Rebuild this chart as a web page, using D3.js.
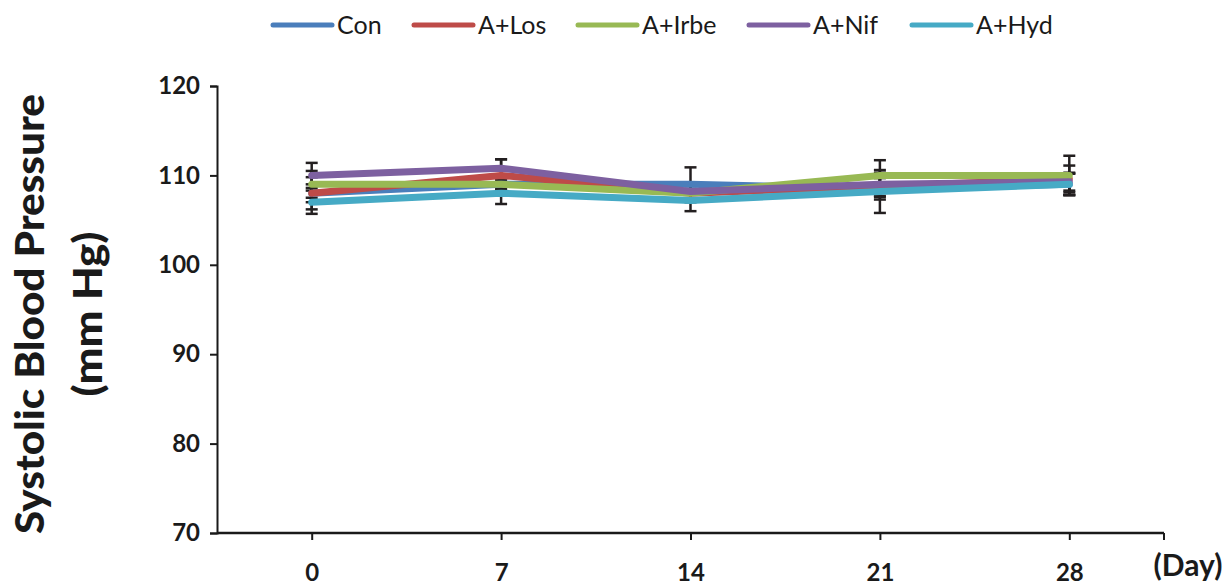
<!DOCTYPE html>
<html>
<head>
<meta charset="utf-8">
<script src="https://cdn.jsdelivr.net/npm/d3@7"></script>
<style>
  html, body { margin: 0; padding: 0; background: #fff; }
  svg { display: block; }
  text { font-family: Lato, "Open Sans", sans-serif; fill: #1a1a1a; }
</style>
</head>
<body>
<svg id="chart" width="1231" height="585"></svg>
<script>
// Days of measurement
const days = ["0", "7", "14", "21", "28"];
const yTicks = [70, 80, 90, 100, 110, 120];

// Group names and colours
const groups = ["Con", "A+Los", "A+Irbe", "A+Nif", "A+Hyd"];
const colors = ["#4A7EBB", "#BE4B48", "#98B954", "#7D60A0", "#46AAC5"];

// Mean systolic pressure (mm Hg) per group, per day
const con   = [108, 109, 109, 108.5, 109];
const aLos  = [108, 110, 108, 108.8, 109.6];
const aIrbe = [109, 109, 108, 110, 110];
const aNif  = [110, 110.8, 108.2, 109, 109.3];
const aHyd  = [107, 108, 107.2, 108.2, 109];

// Error (SD) per group, per day
const conErr  = [1.0, 0.6, 1.9, 1.2, 1.2];
const losErr  = [1.8, 1.8, 1.0, 1.2, 1.5];
const irbeErr = [1.5, 0.5, 0.8, 1.7, 2.2];
const nifErr  = [1.4, 1.0, 0.8, 1.3, 1.0];
const hydErr  = [1.3, 1.2, 1.2, 2.4, 1.2];

const series = [
  { name: groups[0], color: colors[0], values: con,   err: conErr },
  { name: groups[1], color: colors[1], values: aLos,  err: losErr },
  { name: groups[2], color: colors[2], values: aIrbe, err: irbeErr },
  { name: groups[3], color: colors[3], values: aNif,  err: nifErr },
  { name: groups[4], color: colors[4], values: aHyd,  err: hydErr }
];

const svg = d3.select("#chart");
const plotLeft = 217, plotRight = 1164, plotTop = 86, plotBottom = 533;

const x = d3.scalePoint().domain(days).range([plotLeft, plotRight]).padding(0.5);
const y = d3.scaleLinear().domain([70, 120]).range([plotBottom, plotTop]);

// Y axis
const yAxis = svg.append("g")
  .attr("transform", `translate(${plotLeft},0)`)
  .call(d3.axisLeft(y).tickValues(yTicks).tickSize(7).tickPadding(10));
yAxis.select(".domain").attr("stroke", "#1a1a1a").attr("stroke-width", 2);
yAxis.selectAll(".tick line").attr("stroke", "#1a1a1a").attr("stroke-width", 2);
yAxis.selectAll(".tick text")
  .style("font-family", "Lato, sans-serif")
  .style("font-size", "24px").style("font-weight", "bold").attr("fill", "#1a1a1a");

// X axis
const xAxis = svg.append("g")
  .attr("transform", `translate(0,${plotBottom})`)
  .call(d3.axisBottom(x).tickSizeInner(7).tickSizeOuter(0).tickPadding(24));
xAxis.select(".domain").attr("stroke", "#1a1a1a").attr("stroke-width", 2.5)
  .attr("d", `M${plotLeft},0H${plotRight}`);
xAxis.selectAll(".tick line").attr("stroke", "#1a1a1a").attr("stroke-width", 2);
xAxis.selectAll(".tick text")
  .style("font-family", "Lato, sans-serif")
  .style("font-size", "24px").style("font-weight", "bold").attr("fill", "#1a1a1a");
// end tick at the right of the x axis
xAxis.append("line").attr("x1", plotRight).attr("x2", plotRight).attr("y1", 0).attr("y2", 7)
  .attr("stroke", "#1a1a1a").attr("stroke-width", 2);

svg.append("text")
  .attr("x", 1188).attr("y", 576)
  .attr("text-anchor", "middle")
  .style("font-size", "30px").style("font-weight", "bold")
  .text("(Day)");

// Y axis title
const yTitle = svg.append("text")
  .attr("transform", "translate(0,314) rotate(-90)")
  .attr("text-anchor", "middle")
  .style("font-size", "40px").style("font-weight", "900");
yTitle.append("tspan").attr("x", 0).attr("y", 44)
  .attr("textLength", 440).attr("lengthAdjust", "spacingAndGlyphs")
  .text("Systolic Blood Pressure");
yTitle.append("tspan").attr("x", 0).attr("y", 102)
  .attr("textLength", 165).attr("lengthAdjust", "spacingAndGlyphs")
  .text("(mm Hg)");

// Error bars
const capW = 6;
const errG = svg.append("g");
series.forEach(s => {
  s.values.forEach((v, i) => {
    const cx = x(days[i]);
    const y1 = y(v + s.err[i]), y2 = y(v - s.err[i]);
    errG.append("line").attr("x1", cx).attr("x2", cx).attr("y1", y1).attr("y2", y2)
      .attr("stroke", "#231f20").attr("stroke-width", 2.5);
    [y1, y2].forEach(yy => errG.append("line")
      .attr("x1", cx - capW).attr("x2", cx + capW).attr("y1", yy).attr("y2", yy)
      .attr("stroke", "#231f20").attr("stroke-width", 2.5));
  });
});

// Series lines
const line = d3.line().x((d, i) => x(days[i])).y(d => y(d));
svg.append("g").selectAll("path").data(series).join("path")
  .attr("d", d => line(d.values))
  .attr("fill", "none")
  .attr("stroke", d => d.color)
  .attr("stroke-width", 7)
  .attr("stroke-linecap", "round")
  .attr("stroke-linejoin", "round");

// Legend
const legendX = [273, 414, 578, 749, 912];
const legend = svg.append("g").selectAll("g").data(series).join("g")
  .attr("transform", (d, i) => `translate(${legendX[i]},25)`);
legend.append("line").attr("x1", 0).attr("x2", 59).attr("y1", 0).attr("y2", 0)
  .attr("stroke", d => d.color).attr("stroke-width", 5).attr("stroke-linecap", "round");
legend.append("text").attr("x", 64).attr("y", 9)
  .style("font-size", "25px")
  .text(d => d.name);
</script>
</body>
</html>
